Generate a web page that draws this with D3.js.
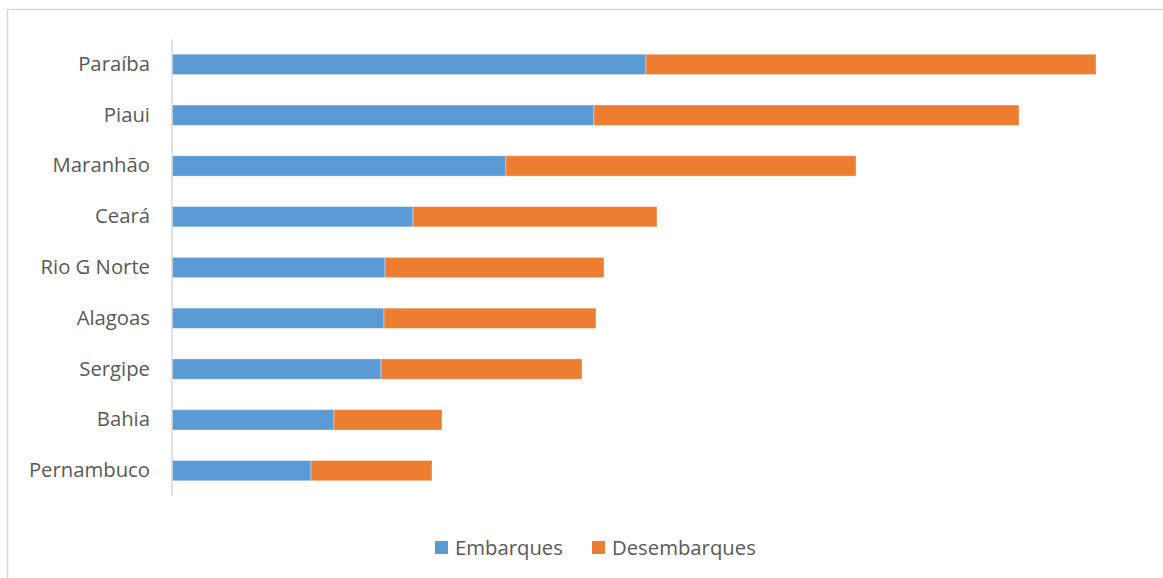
<!DOCTYPE html>
<html>
<head>
<meta charset="utf-8">
<script src="https://cdn.jsdelivr.net/npm/d3@7"></script>
<style>
  html, body { margin: 0; padding: 0; background: #fff; }
  svg { display: block; }
</style>
</head>
<body>
<svg id="chart" width="1163" height="578"></svg>
<script>
const categories = ["Paraíba", "Piaui", "Maranhão", "Ceará", "Rio G Norte", "Alagoas", "Sergipe", "Bahia", "Pernambuco"];
const embarques = [474, 422, 334, 241, 213, 212, 209, 162, 139];
const desembarques = [450, 425, 350, 244, 219, 212, 201, 108, 121];
const seriesNames = ["Embarques", "Desembarques"];
const seriesColors = ["#5B9BD5", "#ED7D31"];

const svg = d3.select("#chart");
const W = 1163, H = 578;
const font = "'Open Sans', 'Liberation Sans', sans-serif";
const fs = 20.3;

// Chart area border (only top and left visible)
svg.append("line").attr("x1", 7.5).attr("x2", W).attr("y1", 9.5).attr("y2", 9.5)
  .attr("stroke", "#d9d9d9").attr("stroke-width", 1.5);
svg.append("line").attr("x1", 7.5).attr("x2", 7.5).attr("y1", 9.5).attr("y2", H)
  .attr("stroke", "#d9d9d9").attr("stroke-width", 1.5);

const x0 = 172, y0 = 39, y1 = 496;
const x = d3.scaleLinear().domain([0, 924]).range([x0, 1096]);
const y = d3.scaleBand().domain(categories).range([y0, y1]).paddingInner(0.6).paddingOuter(0.3);

const rows = categories.map((c, i) => ({ cat: c, Embarques: embarques[i], Desembarques: desembarques[i] }));
const stacked = d3.stack().keys(seriesNames)(rows);

svg.append("g").selectAll("g").data(stacked).join("g")
  .attr("fill", (d, i) => seriesColors[i])
  .selectAll("rect").data(d => d).join("rect")
  .attr("x", d => x(d[0]))
  .attr("width", d => x(d[1]) - x(d[0]))
  .attr("y", d => y(d.data.cat))
  .attr("height", y.bandwidth())
  .attr("stroke", "#ffffff").attr("stroke-opacity", 0.5).attr("stroke-width", 0.75);

// Y axis
const yAxis = d3.axisLeft(y).tickSize(0).tickPadding(22);
const gy = svg.append("g").attr("transform", `translate(${x0},0)`).call(yAxis);
gy.select(".domain").attr("stroke", "#d9d9d9").attr("stroke-width", 1.5)
  .attr("d", `M0,${y0}V${y1}`);
gy.selectAll("text").attr("font-family", font).attr("font-size", fs).attr("fill", "#595959");

// Legend
const legend = svg.append("g");
const items = [{ x: 435, tx: 455 }, { x: 592, tx: 612 }];
seriesNames.forEach((n, i) => {
  legend.append("rect").attr("x", items[i].x).attr("y", 541).attr("width", 13).attr("height", 13).attr("fill", seriesColors[i]);
  legend.append("text").attr("x", items[i].tx).attr("y", 547.5).attr("dy", "0.35em")
    .attr("font-family", font).attr("font-size", fs).attr("fill", "#595959").text(n);
});
</script>
</body>
</html>
